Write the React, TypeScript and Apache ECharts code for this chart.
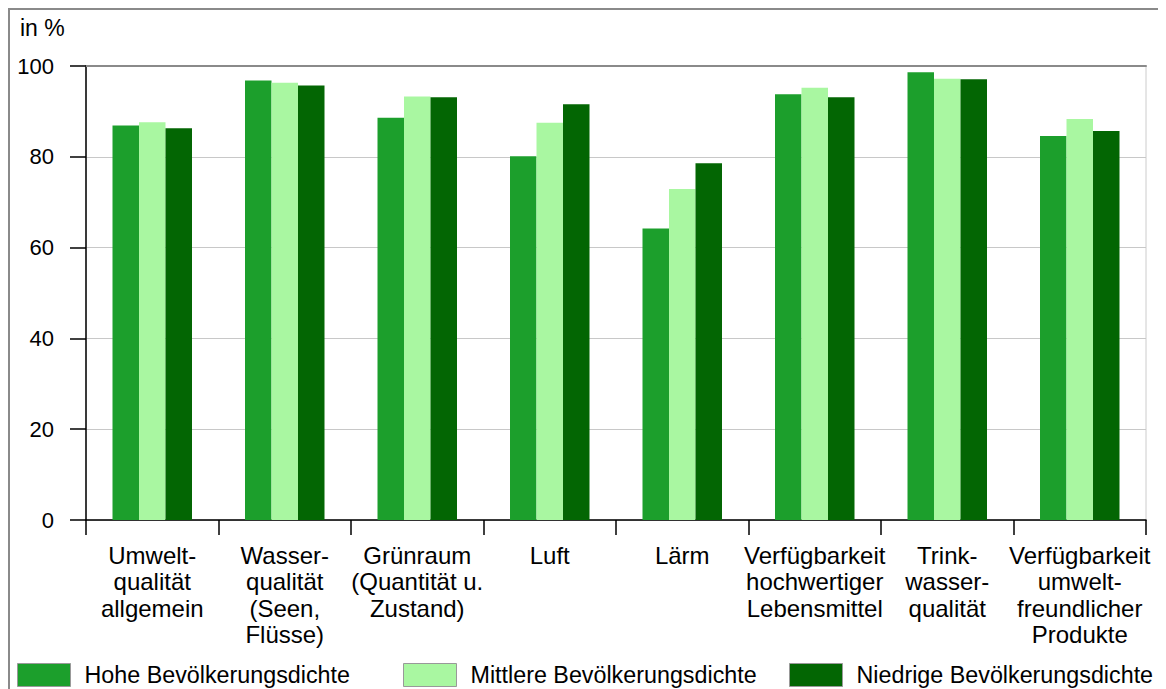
import React, { useEffect, useRef } from "react";
import * as echarts from "echarts";

const categories = [
  "Umwelt-\nqualität\nallgemein",
  "Wasser-\nqualität\n(Seen,\nFlüsse)",
  "Grünraum\n(Quantität u.\nZustand)",
  "Luft",
  "Lärm",
  "Verfügbarkeit\nhochwertiger\nLebensmittel",
  "Trink-\nwasser-\nqualität",
  "Verfügbarkeit\numwelt-\nfreundlicher\nProdukte",
];
const seriesNames = [
  "Hohe Bevölkerungsdichte",
  "Mittlere Bevölkerungsdichte",
  "Niedrige Bevölkerungsdichte",
];
const hohe = [86.9, 96.8, 88.6, 80.1, 64.2, 93.8, 98.6, 84.6];
const mittlere = [87.6, 96.3, 93.3, 87.5, 72.9, 95.2, 97.2, 88.3];
const niedrige = [86.3, 95.7, 93.1, 91.6, 78.6, 93.1, 97.1, 85.7];
const colors = ["#1c9f2c", "#a9f7a1", "#036603"];
const yTicks = [0, 20, 40, 60, 80, 100];

const FONT = "'Liberation Sans', Arial, sans-serif";

export default function App() {
  const ref = useRef<HTMLDivElement>(null);
  useEffect(() => {
    if (!ref.current) return;
    const chart = echarts.init(ref.current, null, { renderer: "svg" });
    const values = [hohe, mittlere, niedrige];
    const legendLefts = [4, 390, 776];
    chart.setOption({
      animation: false,
      textStyle: { fontFamily: FONT, color: "#000" },
      title: {
        text: "in %",
        left: 7,
        top: 3,
        textStyle: { fontFamily: FONT, fontSize: 23, fontWeight: "normal", color: "#000" },
      },
      graphic: [
        {
          type: "polyline",
          shape: { points: [[1, 700], [1, 1], [1155, 1], [1155, 700]] },
          style: { stroke: "#8a8a8a", lineWidth: 2, fill: "none" },
          silent: true,
        },
      ],
      legend: seriesNames.map((n, i) => ({
        data: [n],
        left: legendLefts[i],
        top: 650,
        itemWidth: 53,
        itemHeight: 23,
        icon: "rect",
        itemStyle: { borderColor: "#999", borderWidth: 1 },
        textStyle: { fontFamily: FONT, fontSize: 23.3, color: "#000", padding: [0, 0, 0, 9] },
      })),
      grid: {
        left: 78,
        top: 58,
        right: 20,
        bottom: 169,
        show: true,
        borderColor: "#cccccc",
        borderWidth: 1,
      },
      xAxis: [
        {
          type: "category",
          data: categories,
          axisLine: { lineStyle: { color: "#000", width: 1.5 } },
          axisTick: { show: true, length: 15, lineStyle: { color: "#000", width: 1.5 } },
          axisLabel: {
            interval: 0,
            margin: 22,
            fontFamily: FONT,
            fontSize: 24,
            lineHeight: 26.5,
            color: "#000",
            align: "center",
          },
        },
        {
          type: "category",
          data: categories,
          position: "top",
          axisLine: { lineStyle: { color: "#8a8a8a", width: 2 } },
          axisTick: { show: false },
          axisLabel: { show: false },
        },
      ],
      yAxis: {
        type: "value",
        min: yTicks[0],
        max: yTicks[yTicks.length - 1],
        interval: 20,
        axisLine: { show: true, lineStyle: { color: "#000", width: 1.5 } },
        axisTick: { show: true, length: 16, lineStyle: { color: "#000", width: 1.5 } },
        axisLabel: { margin: 32, fontFamily: FONT, fontSize: 22, color: "#000" },
        splitLine: { lineStyle: { color: "#c8c8c8", width: 1 } },
      },
      series: seriesNames.map((n, i) => ({
        name: n,
        type: "bar",
        data: values[i],
        barGap: "0%",
        barCategoryGap: "40%",
        itemStyle: { color: colors[i] },
      })),
    });
    return () => chart.dispose();
  }, []);
  return <div ref={ref} style={{ width: 1158, height: 681 }} />;
}
